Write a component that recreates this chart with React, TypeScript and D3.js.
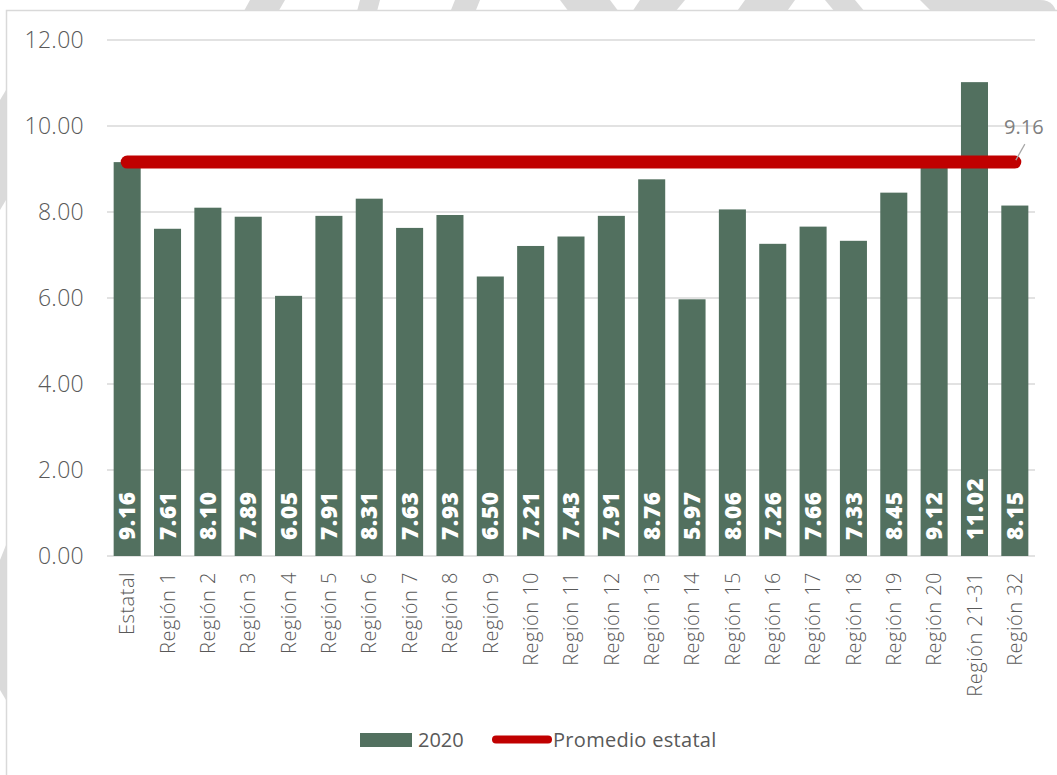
import React, { useEffect, useRef } from "react";
import * as d3 from "d3";

// Datos
const categories = [
  "Estatal", "Región 1", "Región 2", "Región 3", "Región 4", "Región 5", "Región 6",
  "Región 7", "Región 8", "Región 9", "Región 10", "Región 11", "Región 12", "Región 13",
  "Región 14", "Región 15", "Región 16", "Región 17", "Región 18", "Región 19",
  "Región 20", "Región 21-31", "Región 32",
];
const values2020 = [
  9.16, 7.61, 8.10, 7.89, 6.05, 7.91, 8.31, 7.63, 7.93, 6.50, 7.21, 7.43, 7.91, 8.76,
  5.97, 8.06, 7.26, 7.66, 7.33, 8.45, 9.12, 11.02, 8.15,
];
const promedioEstatal = 9.16;
const yTicks = [0, 2, 4, 6, 8, 10, 12];
const seriesNames = ["2020", "Promedio estatal"];

const W = 1057;
const H = 775;
const BAR = "#52705F";
const RED = "#C00000";
const GRID = "#d9d9d9";
const TEXT = "#595959";
const FONT = "'Open Sans', sans-serif";

// marca de agua decorativa (fondo)
const watermark = [
  "M250,0 L285,0 L262,40 L228,40 Z",
  "M360,0 L380,0 L372,30 L352,30 Z",
  "M455,0 L480,0 L470,25 L445,25 Z",
  "M560,0 L610,0 L640,40 L590,40 Z",
  "M640,0 L685,0 L660,30 L620,30 Z",
  "M745,0 L795,0 L770,35 L720,35 Z",
  "M825,0 L855,0 L880,30 L850,30 Z",
  "M920,0 L1040,0 Q1057,0 1057,20 L1057,30 L950,30 Z",
  "M0,100 L6,90 L6,200 L0,210 Z",
  "M0,560 L6,545 L6,700 L0,690 Z",
];

function create_chart(node: SVGSVGElement) {
  const svg = d3.select(node).attr("width", W).attr("height", H);
  svg.selectAll("*").remove();

  svg.append("rect").attr("width", W).attr("height", H).attr("fill", "#fff");
  svg
    .selectAll(".wm")
    .data(watermark)
    .enter()
    .append("path")
    .attr("d", (d) => d)
    .attr("fill", "#dadada");

  // caja del gráfico
  svg
    .append("rect")
    .attr("x", 6.5)
    .attr("y", 10.5)
    .attr("width", W + 20)
    .attr("height", H + 20)
    .attr("fill", "#fff")
    .attr("stroke", GRID)
    .attr("stroke-width", 1.5);

  const x = d3.scaleBand().domain(categories).range([107, 1035]).paddingInner(0.33).paddingOuter(0.165);
  const y = d3.scaleLinear().domain([0, 12]).range([556, 40]);

  // rejilla
  svg
    .selectAll(".grid")
    .data(yTicks)
    .enter()
    .append("line")
    .attr("x1", 107)
    .attr("x2", 1035)
    .attr("y1", (d) => y(d))
    .attr("y2", (d) => y(d))
    .attr("stroke", GRID)
    .attr("stroke-width", 1.5);

  svg
    .selectAll(".ytick")
    .data(yTicks)
    .enter()
    .append("text")
    .attr("x", 84)
    .attr("y", (d) => y(d))
    .attr("dy", "0.36em")
    .attr("text-anchor", "end")
    .attr("font-family", FONT)
    .attr("font-weight", 300)
    .attr("font-size", 23)
    .attr("letter-spacing", 0.3)
    .attr("fill", TEXT)
    .text((d) => d3.format(".2f")(d));

  // barras
  svg
    .selectAll(".bar")
    .data(values2020)
    .enter()
    .append("rect")
    .attr("x", (d, i) => x(categories[i])!)
    .attr("width", x.bandwidth())
    .attr("y", (d) => y(d))
    .attr("height", (d) => y(0) - y(d))
    .attr("fill", BAR);

  // etiquetas dentro de las barras
  svg
    .selectAll(".vlabel")
    .data(values2020)
    .enter()
    .append("text")
    .attr("transform", (d, i) => `translate(${x(categories[i])! + x.bandwidth() / 2},${y(0) - 16}) rotate(-90)`)
    .attr("dy", "0.36em")
    .attr("text-anchor", "start")
    .attr("font-family", FONT)
    .attr("font-weight", 800)
    .attr("font-size", 22.5)
    .attr("letter-spacing", 0.6)
    .attr("fill", "#fff")
    .text((d) => d3.format(".2f")(d));

  // eje x
  svg
    .selectAll(".xlabel")
    .data(categories)
    .enter()
    .append("text")
    .attr("transform", (d) => `translate(${x(d)! + x.bandwidth() / 2},${572}) rotate(-90)`)
    .attr("dy", "0.36em")
    .attr("text-anchor", "end")
    .attr("font-family", FONT)
    .attr("font-weight", 300)
    .attr("font-size", 20)
    .attr("letter-spacing", 0.5)
    .attr("fill", TEXT)
    .text((d) => d);

  // línea promedio estatal
  const line = d3
    .line<string>()
    .x((d) => x(d)! + x.bandwidth() / 2)
    .y(() => y(promedioEstatal));
  svg
    .append("path")
    .attr("d", line(categories))
    .attr("fill", "none")
    .attr("stroke", RED)
    .attr("stroke-width", 13)
    .attr("stroke-linecap", "round");

  const lastX = x(categories[categories.length - 1])! + x.bandwidth() / 2;
  svg
    .append("line")
    .attr("x1", lastX + 1)
    .attr("y1", y(promedioEstatal) - 2)
    .attr("x2", lastX + 10)
    .attr("y2", y(promedioEstatal) - 18)
    .attr("stroke", "#a6a6a6")
    .attr("stroke-width", 1.2);
  svg
    .append("text")
    .attr("x", lastX + 9)
    .attr("y", y(promedioEstatal) - 28)
    .attr("text-anchor", "middle")
    .attr("font-family", FONT)
    .attr("font-size", 20)
    .attr("fill", "#808080")
    .text(d3.format(".2f")(promedioEstatal));

  // leyenda
  const leg = svg.append("g");
  leg.append("rect").attr("x", 360).attr("y", 733).attr("width", 52).attr("height", 14).attr("fill", BAR);
  leg
    .append("text")
    .attr("x", 418)
    .attr("y", 747)
    .attr("font-family", FONT)
    .attr("font-size", 20)
    .attr("fill", TEXT)
    .text(seriesNames[0]);
  leg
    .append("line")
    .attr("x1", 496)
    .attr("x2", 548)
    .attr("y1", 739.5)
    .attr("y2", 739.5)
    .attr("stroke", RED)
    .attr("stroke-width", 8)
    .attr("stroke-linecap", "round");
  leg
    .append("text")
    .attr("x", 553)
    .attr("y", 747)
    .attr("font-family", FONT)
    .attr("font-size", 20)
    .attr("letter-spacing", 0.3)
    .attr("fill", TEXT)
    .text(seriesNames[1]);
}

export default function App() {
  const svgRef = useRef<SVGSVGElement>(null);

  useEffect(() => {
    if (svgRef.current) create_chart(svgRef.current);
  }, []);

  return (
    <svg ref={svgRef} style={{ position: "absolute", left: 0, top: 0, display: "block" }}></svg>
  );
}
